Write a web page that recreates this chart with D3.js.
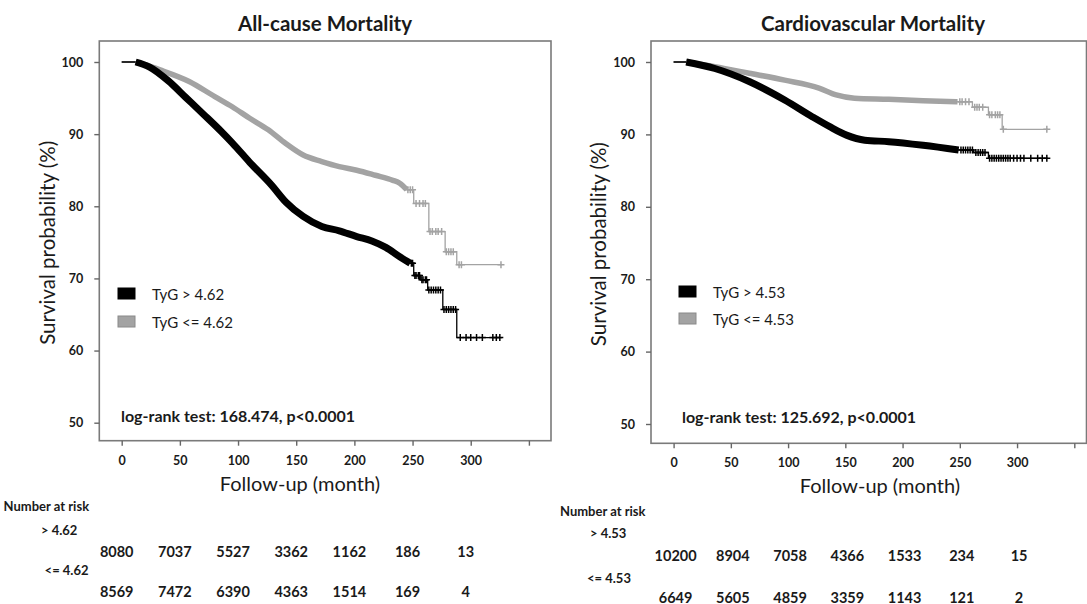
<!DOCTYPE html>
<html>
<head>
<meta charset="utf-8">
<script src="https://cdn.jsdelivr.net/npm/d3@7"></script>
<style>
body { margin: 0; background: #fff; }
svg { display: block; font-family: Lato, "Open Sans", sans-serif; }
</style>
</head>
<body>
<svg id="chart" width="1087" height="604"></svg>
<script>
"use strict"

const monthTicks = [0, 50, 100, 150, 200, 250, 300, 350];
const survTicks = [50, 60, 70, 80, 90, 100];
const riskMonths = [0, 50, 100, 150, 200, 250, 300];

// All-cause, TyG > 4.62
const acHighTime = [12, 24, 40, 55, 70, 86, 95, 110, 129, 141, 156, 172, 187, 202, 215, 227, 239, 248];
const acHighSurv = [100, 99.3, 97.4, 95.1, 92.8, 90.3, 88.8, 86.1, 82.9, 80.6, 78.6, 77.2, 76.6, 75.8, 75.2, 74.3, 73.0, 72.1];
const acHighStepTime = [248, 251, 257, 263, 276, 288, 327];
const acHighStepSurv = [72.1, 70.4, 69.8, 68.4, 65.7, 61.8, 61.8];
const acHighCensor = [249, 250, 252, 253, 255, 256, 258, 259, 261, 262, 264, 266, 268, 270, 272, 274, 277, 279, 281, 283, 285, 287, 291, 296, 300, 305, 310, 319, 322, 325];

// All-cause, TyG <= 4.62
const acLowTime = [12, 33, 58, 80, 95, 110, 126, 141, 156, 172, 187, 202, 218, 233, 239, 245];
const acLowSurv = [100, 98.9, 97.3, 95.2, 93.8, 92.2, 90.6, 88.7, 87.1, 86.2, 85.5, 85.0, 84.3, 83.6, 83.2, 82.3];
const acLowStepTime = [245, 251, 264, 278, 288, 327];
const acLowStepSurv = [82.3, 80.4, 76.5, 73.7, 71.9, 71.9];
const acLowCensor = [246, 248, 250, 253, 256, 259, 261, 265, 267, 270, 272, 275, 279, 281, 283, 285, 290, 292, 326];

// Cardiovascular, TyG > 4.53
const cvHighTime = [11, 36, 66, 97, 121, 136, 151, 167, 188, 218, 249];
const cvHighSurv = [100, 99.1, 97.3, 94.75, 92.45, 91.1, 89.9, 89.2, 89.0, 88.5, 87.85];
const cvHighStepTime = [249, 262, 275, 327];
const cvHighStepSurv = [87.85, 87.5, 86.7, 86.7];
const cvHighCensor = [251, 253, 255, 257, 259, 261, 264, 266, 268, 270, 272, 276, 278, 280, 282, 284, 286, 288, 290, 292, 294, 297, 300, 303, 306, 312, 318, 322, 326];

// Cardiovascular, TyG <= 4.53
const cvLowTime = [11, 36, 66, 97, 127, 142, 158, 188, 218, 248];
const cvLowSurv = [100, 99.35, 98.45, 97.5, 96.4, 95.45, 95.0, 94.85, 94.65, 94.5];
const cvLowStepTime = [248, 261, 275, 287, 327];
const cvLowStepSurv = [94.5, 93.75, 92.7, 90.7, 90.7];
const cvLowCensor = [250, 252, 255, 258, 263, 265, 267, 270, 276, 278, 281, 283, 285, 288, 326];

// numbers at risk
const acHighRisk = [8080, 7037, 5527, 3362, 1162, 186, 13];
const acLowRisk = [8569, 7472, 6390, 4363, 1514, 169, 4];
const cvHighRisk = [10200, 8904, 7058, 4366, 1533, 234, 15];
const cvLowRisk = [6649, 5605, 4859, 3359, 1143, 121, 2];

const black = "#000";
const gray = "#a3a3a3";
const svg = d3.select("#chart");

const panels = [
    {
        title: "All-cause Mortality", titleX: 325,
        box: [99.3, 41, 551, 440.7], xRange: [121.7, 528.9], yRange: [422.7, 62],
        cut: "4.62", legendX: 118, legendY: 288, legendGap: 28,
        logrank: "log-rank test: 168.474, p<0.0001", logrankY: 422,
        yTitleX: 55, xTitleX: 300, xTitleY: 491,
        riskLabelX: 3.6, riskLabelY: 511, groupX: [41, 44.6], groupY: [535, 575], rowY: [556.5, 596.5], riskShift: -5,
        high: [acHighTime, acHighSurv, acHighStepTime, acHighStepSurv, acHighCensor, acHighRisk],
        low: [acLowTime, acLowSurv, acLowStepTime, acLowStepSurv, acLowCensor, acLowRisk]
    },
    {
        title: "Cardiovascular Mortality", titleX: 873,
        box: [651, 41, 1086.5, 443.3], xRange: [673.6, 1074.3], yRange: [424, 62],
        cut: "4.53", legendX: 679, legendY: 286, legendGap: 27,
        logrank: "log-rank test: 125.692, p<0.0001", logrankY: 422.5,
        yTitleX: 606, xTitleX: 880, xTitleY: 492.5,
        riskLabelX: 560, riskLabelY: 516, groupX: [590, 587], groupY: [538, 583], rowY: [561, 602.5], riskShift: 2,
        high: [cvHighTime, cvHighSurv, cvHighStepTime, cvHighStepSurv, cvHighCensor, cvHighRisk],
        low: [cvLowTime, cvLowSurv, cvLowStepTime, cvLowStepSurv, cvLowCensor, cvLowRisk]
    }
];


function StepValue(times, surv, t)
{
    let value = surv[0];
    times.forEach((time, i) => { if(time <= t) value = surv[i]; });
    return value;
}


function DrawCurve(g, x, y, series, color, width)
{
    const [time, surv, stepTime, stepSurv, censor] = series;

    const dense = d3.line()
        .x(d => x(d[0]))
        .y(d => y(d[1]))
        .curve(d3.curveMonotoneX);
    const steps = d3.line()
        .x(d => x(d[0]))
        .y(d => y(d[1]))
        .curve(d3.curveStepAfter);

    // thin lead-in at 100%
    g.append("path")
        .attr("d", steps([[0, 100], [time[0], 100]]))
        .attr("fill", "none")
        .attr("stroke", black)
        .attr("stroke-width", 1.2);

    g.append("path")
        .attr("d", steps(stepTime.map((t, i) => [t, stepSurv[i]])))
        .attr("fill", "none")
        .attr("stroke", color)
        .attr("stroke-width", 1.3);

    g.append("path")
        .attr("d", dense(time.map((t, i) => [t, surv[i]])))
        .attr("fill", "none")
        .attr("stroke", color)
        .attr("stroke-width", width);

    g.selectAll(null)
        .data(censor)
        .enter()
        .append("path")
            .attr("d", t => {
                const cx = x(t);
                const cy = y(StepValue(stepTime, stepSurv, t));
                return `M${cx - 3.5},${cy}H${cx + 3.5}M${cx},${cy - 3.5}V${cy + 3.5}`;
            })
            .attr("stroke", color)
            .attr("stroke-width", 1.5);
}


function DrawPanel(p)
{
    const [bx0, by0, bx1, by1] = p.box;
    const x = d3.scaleLinear().domain([0, 350]).range(p.xRange);
    const y = d3.scaleLinear().domain([50, 100]).range(p.yRange);
    const g = svg.append("g");

    g.append("text")
        .attr("x", p.titleX)
        .attr("y", 30.5)
        .attr("text-anchor", "middle")
        .attr("font-size", 20.5)
        .attr("font-weight", "bold")
        .attr("fill", "#1a1a1a")
        .text(p.title);

    g.append("rect")
        .attr("x", bx0)
        .attr("y", by0)
        .attr("width", bx1 - bx0)
        .attr("height", by1 - by0)
        .attr("fill", "none")
        .attr("stroke", "#7a7a7a")
        .attr("stroke-width", 1.6);

    const yAxis = g.append("g")
        .attr("transform", `translate(${bx0},0)`)
        .call(d3.axisLeft(y).tickValues(survTicks).tickSize(5).tickPadding(11));
    const xAxis = g.append("g")
        .attr("transform", `translate(0,${by1})`)
        .call(d3.axisBottom(x).tickValues(monthTicks).tickSize(5).tickPadding(10)
            .tickFormat(d => d == 350 ? "" : d));

    [yAxis, xAxis].forEach(axis => {
        axis.select(".domain").remove();
        axis.selectAll(".tick line").attr("stroke", "#666").attr("stroke-width", 1.4);
        axis.selectAll(".tick text")
            .attr("font-family", "Lato, sans-serif")
            .attr("font-size", 12.5)
            .attr("font-weight", "bold")
            .attr("fill", "#1a1a1a");
    });

    DrawCurve(g, x, y, p.low, gray, 5.5);
    DrawCurve(g, x, y, p.high, black, 7);

    // legend
    [["TyG > " + p.cut, black], ["TyG <= " + p.cut, gray]].forEach(([label, color], i) => {
        g.append("rect")
            .attr("x", p.legendX)
            .attr("y", p.legendY + i * p.legendGap)
            .attr("width", 17)
            .attr("height", 11)
            .attr("fill", color)
            .attr("stroke", i ? "#8a8a8a" : black)
            .attr("stroke-width", 1);
        g.append("text")
            .attr("x", p.legendX + 34)
            .attr("y", p.legendY + i * p.legendGap + 11.5)
            .attr("font-size", 15)
            .attr("fill", "#1a1a1a")
            .text(label);
    });

    g.append("text")
        .attr("x", p.legendX + 3)
        .attr("y", p.logrankY)
        .attr("font-size", 16)
        .attr("font-weight", "bold")
        .attr("fill", "#1a1a1a")
        .text(p.logrank);

    g.append("text")
        .attr("transform", `translate(${p.yTitleX},${(by0 + by1) / 2 + 2}) rotate(-90)`)
        .attr("text-anchor", "middle")
        .attr("font-size", 20.5)
        .attr("fill", "#1a1a1a")
        .text("Survival probability (%)");

    g.append("text")
        .attr("x", p.xTitleX)
        .attr("y", p.xTitleY)
        .attr("text-anchor", "middle")
        .attr("font-size", 20)
        .attr("fill", "#1a1a1a")
        .text("Follow-up (month)");

    // number at risk table
    g.append("text")
        .attr("x", p.riskLabelX)
        .attr("y", p.riskLabelY)
        .attr("font-size", 13)
        .attr("font-weight", "bold")
        .attr("fill", "#1a1a1a")
        .text("Number at risk");

    [["> " + p.cut, p.high[5]], ["<= " + p.cut, p.low[5]]].forEach(([label, risk], i) => {
        g.append("text")
            .attr("x", p.groupX[i])
            .attr("y", p.groupY[i])
            .attr("font-size", 13)
            .attr("font-weight", "bold")
            .attr("fill", "#1a1a1a")
            .text(label);
        g.selectAll(null)
            .data(risk)
            .enter()
            .append("text")
                .attr("x", (_, j) => x(riskMonths[j]) + p.riskShift)
                .attr("y", p.rowY[i])
                .attr("text-anchor", "middle")
                .attr("font-size", 14.5)
                .attr("font-weight", "bold")
                .attr("fill", "#1a1a1a")
                .text(d => d);
    });
}


panels.forEach(p => DrawPanel(p));
</script>
</body>
</html>
